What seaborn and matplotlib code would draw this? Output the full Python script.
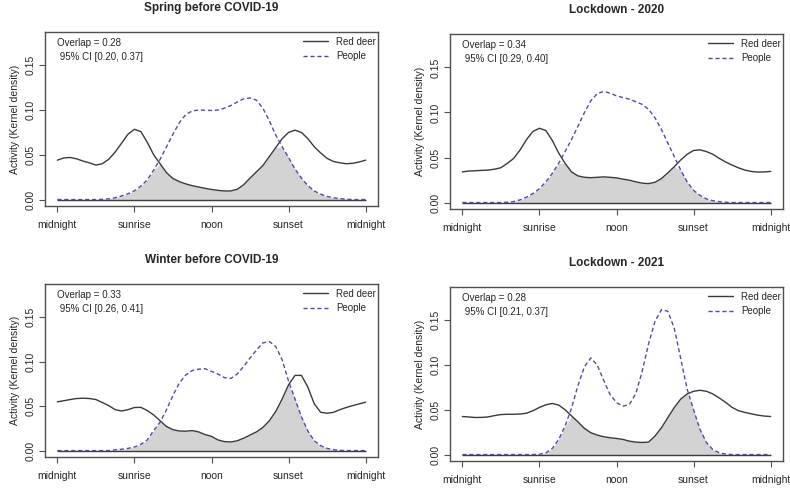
import matplotlib
matplotlib.use("Agg")
import matplotlib.pyplot as plt
import numpy as np
import seaborn as sns

# time of day in hours, sampled every half hour (0 = midnight, 24 = midnight)
HOURS = np.arange(0, 24.5, 0.5)
TICK_HOURS = [0, 6, 12, 18, 24]
TICK_LABELS = ["midnight", "sunrise", "noon", "sunset", "midnight"]
Y_TICKS = [0.00, 0.05, 0.10, 0.15]

TITLES = ["Spring before COVID-19", "Lockdown - 2020",
          "Winter before COVID-19", "Lockdown - 2021"]
OVERLAP = [0.28, 0.34, 0.33, 0.28]
CI_LOW = [0.20, 0.29, 0.26, 0.21]
CI_HIGH = [0.37, 0.40, 0.41, 0.37]

# kernel density
deer_spring = [0.044, 0.0465, 0.047, 0.0455, 0.043, 0.041, 0.0385, 0.040, 0.045, 0.053,
               0.063, 0.073, 0.0785, 0.076, 0.064, 0.050, 0.040, 0.030, 0.0235, 0.020,
               0.0175, 0.0155, 0.014, 0.0125, 0.0113, 0.0103, 0.0096, 0.0096, 0.0115, 0.0165,
               0.024, 0.031, 0.038, 0.048, 0.058, 0.068, 0.075, 0.0775, 0.075, 0.068,
               0.059, 0.052, 0.046, 0.0425, 0.041, 0.040, 0.0405, 0.042, 0.044]
people_spring = [0, 0, 0, 0, 0, 0, 0, 0.0003, 0.0008, 0.002,
                 0.004, 0.0065, 0.0098, 0.015, 0.022, 0.033, 0.045, 0.059, 0.073, 0.086,
                 0.095, 0.099, 0.100, 0.0998, 0.0995, 0.100, 0.102, 0.105, 0.109, 0.1125,
                 0.1135, 0.111, 0.102, 0.088, 0.072, 0.059, 0.047, 0.034, 0.024, 0.0156,
                 0.0096, 0.006, 0.0035, 0.002, 0.001, 0.0004, 0, 0, 0]

deer_lock20 = [0.034, 0.035, 0.0353, 0.0357, 0.036, 0.037, 0.0386, 0.0435, 0.049, 0.0585,
               0.070, 0.079, 0.0825, 0.080, 0.069, 0.055, 0.0435, 0.034, 0.0296, 0.028,
               0.0276, 0.028, 0.0285, 0.028, 0.0274, 0.026, 0.0248, 0.023, 0.0215, 0.021,
               0.0225, 0.0266, 0.033, 0.0398, 0.0473, 0.0536, 0.0578, 0.0585, 0.0566, 0.0536,
               0.049, 0.045, 0.0416, 0.0385, 0.036, 0.0345, 0.0338, 0.034, 0.0345]
people_lock20 = [0, 0, 0, 0, 0, 0, 0, 0.0003, 0.001, 0.003,
                 0.006, 0.010, 0.0154, 0.0229, 0.0323, 0.0435, 0.0566, 0.070, 0.0848, 0.0998,
                 0.113, 0.121, 0.1234, 0.1215, 0.1185, 0.1166, 0.1148, 0.112, 0.109, 0.1035,
                 0.094, 0.081, 0.066, 0.051, 0.036, 0.0229, 0.0135, 0.0079, 0.004, 0.002,
                 0.001, 0.0003, 0, 0, 0, 0, 0, 0, 0]

deer_winter = [0.0548, 0.056, 0.0574, 0.0585, 0.0589, 0.0585, 0.0574, 0.054, 0.0506, 0.046,
               0.0445, 0.046, 0.0484, 0.0486, 0.045, 0.040, 0.0335, 0.027, 0.0235, 0.022,
               0.0218, 0.0225, 0.021, 0.018, 0.016, 0.012, 0.0101, 0.0097, 0.011, 0.0139,
               0.0175, 0.021, 0.026, 0.0335, 0.044, 0.058, 0.074, 0.0845, 0.0845, 0.0713,
               0.0525, 0.043, 0.042, 0.043, 0.046, 0.0485, 0.0506, 0.0525, 0.0544]
people_winter = [0, 0, 0, 0, 0, 0, 0, 0, 0, 0.0008,
                 0.0015, 0.0025, 0.004, 0.007, 0.012, 0.0225, 0.032, 0.046, 0.062, 0.076,
                 0.085, 0.090, 0.0915, 0.092, 0.089, 0.086, 0.082, 0.081, 0.086, 0.0945,
                 0.104, 0.113, 0.121, 0.1226, 0.117, 0.102, 0.078, 0.058, 0.038, 0.022,
                 0.011, 0.0055, 0.0025, 0.001, 0.0003, 0, 0, 0, 0]

deer_lock21 = [0.0425, 0.042, 0.0414, 0.0415, 0.042, 0.0435, 0.0447, 0.045, 0.045, 0.0453,
               0.0462, 0.049, 0.0526, 0.0556, 0.0571, 0.0553, 0.050, 0.0432, 0.0365, 0.0293,
               0.0244, 0.0218, 0.0199, 0.0188, 0.018, 0.0169, 0.015, 0.0139, 0.0135, 0.014,
               0.0207, 0.030, 0.0414, 0.0526, 0.062, 0.0677, 0.0707, 0.0718, 0.0707, 0.0677,
               0.0632, 0.0583, 0.0526, 0.049, 0.047, 0.0455, 0.044, 0.043, 0.0425]
people_lock21 = [0, 0, 0, 0, 0, 0, 0, 0, 0, 0,
                 0, 0, 0.0004, 0.0019, 0.0068, 0.0169, 0.032, 0.052, 0.077, 0.098,
                 0.108, 0.100, 0.083, 0.067, 0.058, 0.054, 0.056, 0.068, 0.093, 0.124,
                 0.149, 0.162, 0.160, 0.141, 0.107, 0.073, 0.050, 0.028, 0.0135, 0.0055,
                 0.002, 0.0005, 0, 0, 0, 0, 0, 0, 0]

DEER = [deer_spring, deer_lock20, deer_winter, deer_lock21]
PEOPLE = [people_spring, people_lock20, people_winter, people_lock21]

DEER_COLOR = "#3a3a3a"
PEOPLE_COLOR = "#4b4bb4"
FILL_COLOR = "#d3d3d3"
FRAME_COLOR = "#505050"

sns.set_theme(style="white")
plt.rcParams["font.family"] = ["Liberation Sans", "DejaVu Sans"]

W, H = 790, 488
fig = plt.figure(figsize=(W / 100, H / 100), dpi=100)

# panel boxes in pixels: left, top, right, bottom
BOXES = [(45, 32, 378, 206), (450, 34, 783, 209),
         (45, 284, 378, 457), (450, 287, 783, 461)]

for i, (l, t, r, b) in enumerate(BOXES):
    ax = fig.add_axes([l / W, 1 - b / H, (r - l) / W, (b - t) / H])
    deer = np.asarray(DEER[i]); people = np.asarray(PEOPLE[i])
    assert len(deer) == len(HOURS) and len(people) == len(HOURS)

    ax.fill_between(HOURS, 0, np.minimum(deer, people), color=FILL_COLOR, lw=0, zorder=1)
    ax.hlines(0, HOURS[0], HOURS[-1], color=DEER_COLOR, lw=1.0, zorder=2)
    sns.lineplot(x=HOURS, y=deer, ax=ax, color=DEER_COLOR, lw=1.0,
                 label="Red deer", zorder=3)
    sns.lineplot(x=HOURS, y=people, ax=ax, color=PEOPLE_COLOR, lw=1.0,
                 linestyle=(0, (3, 2)), label="People", zorder=4)

    ax.set_xlim(-0.96, 24.96)
    ax.set_ylim(-0.0072, 0.1872)
    ax.set_xticks(TICK_HOURS)
    ax.set_xticklabels(TICK_LABELS, fontsize=7.5)
    ax.set_yticks(Y_TICKS)
    ax.set_yticklabels([f"{v:.2f}" for v in Y_TICKS], fontsize=7.5,
                       rotation=90, va="center")
    ax.tick_params(axis="both", direction="out", length=4, width=0.8,
                   color=FRAME_COLOR, bottom=True, left=True)
    ax.tick_params(axis="x", pad=6)
    ax.tick_params(axis="y", pad=3)
    for s in ax.spines.values():
        s.set_color(FRAME_COLOR); s.set_linewidth(1.0)

    ax.set_xlabel("")
    ax.set_ylabel("Activity (Kernel density)", fontsize=7.5, labelpad=4)
    ax.set_title(TITLES[i], fontsize=8.5, fontweight="bold", pad=15)

    # x in hours, y in axes fraction
    ax.text(0, 0.965, f"Overlap = {OVERLAP[i]:.2f}\n 95% CI [{CI_LOW[i]:.2f}, {CI_HIGH[i]:.2f}]",
            transform=ax.get_xaxis_transform(), ha="left", va="top",
            fontsize=7, linespacing=1.45)
    ax.legend(loc="upper right", bbox_to_anchor=(1.0, 0.985), frameon=False,
              fontsize=7, handlelength=2.6, handletextpad=0.8, labelspacing=0.45,
              borderaxespad=0.1, borderpad=0.1)

fig.savefig("out.png", dpi=100)
